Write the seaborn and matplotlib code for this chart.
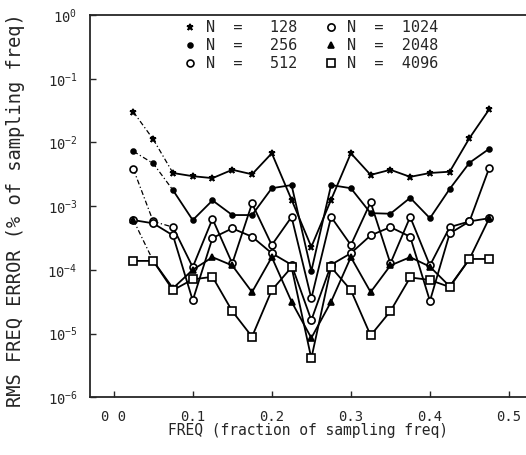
import numpy as np
import pandas as pd
import matplotlib
matplotlib.use("Agg")
import matplotlib.pyplot as plt
import seaborn as sns

freq = [0.025, 0.05, 0.075, 0.1, 0.125, 0.15, 0.175, 0.2, 0.225, 0.25,
        0.275, 0.3, 0.325, 0.35, 0.375, 0.4, 0.425, 0.45, 0.475]

err_128 = [3.0e-2, 1.12e-2, 3.31e-3, 2.95e-3, 2.75e-3, 3.72e-3, 3.16e-3, 6.76e-3, 1.26e-3, 2.29e-4,
           1.26e-3, 6.76e-3, 3.09e-3, 3.72e-3, 2.88e-3, 3.31e-3, 3.47e-3, 1.17e-2, 3.31e-2]
err_256 = [7.24e-3, 4.68e-3, 1.78e-3, 6.03e-4, 1.23e-3, 7.24e-4, 7.24e-4, 1.91e-3, 2.14e-3, 9.55e-5,
           2.14e-3, 1.91e-3, 7.76e-4, 7.59e-4, 1.35e-3, 6.46e-4, 1.86e-3, 4.79e-3, 7.94e-3]
err_512 = [3.80e-3, 5.75e-4, 4.68e-4, 1.10e-4, 6.31e-4, 1.26e-4, 1.10e-3, 2.45e-4, 6.76e-4, 3.55e-5,
           6.76e-4, 2.45e-4, 1.15e-3, 1.26e-4, 6.76e-4, 1.17e-4, 4.68e-4, 5.75e-4, 3.98e-3]
err_1024 = [6.03e-4, 5.37e-4, 3.47e-4, 3.31e-5, 3.16e-4, 4.47e-4, 3.31e-4, 1.82e-4, 1.20e-4, 1.62e-5,
            1.20e-4, 1.82e-4, 3.47e-4, 4.68e-4, 3.31e-4, 3.24e-5, 3.72e-4, 5.75e-4, 6.46e-4]
err_2048 = [6.03e-4, 1.38e-4, 5.13e-5, 1.00e-4, 1.58e-4, 1.17e-4, 4.47e-5, 1.58e-4, 3.16e-5, 8.51e-6,
            3.16e-5, 1.58e-4, 4.47e-5, 1.17e-4, 1.58e-4, 1.12e-4, 5.50e-5, 1.48e-4, 6.46e-4]
err_4096 = [1.38e-4, 1.38e-4, 4.79e-5, 7.08e-5, 7.76e-5, 2.24e-5, 8.91e-6, 4.79e-5, 1.10e-4, 4.07e-6,
            1.10e-4, 4.79e-5, 9.33e-6, 2.24e-5, 7.59e-5, 6.92e-5, 5.37e-5, 1.48e-4, 1.48e-4]

labels = ["N  =   128", "N  =   256", "N  =   512", "N  =  1024", "N  =  2048", "N  =  4096"]
x_ticks = [0.0, 0.1, 0.2, 0.3, 0.4, 0.5]
x_ticklabels = ["0 0", "0.1", "0.2", "0.3", "0.4", "0.5"]
y_ticks = [1e-6, 1e-5, 1e-4, 1e-3, 1e-2, 1e-1, 1e0]
y_ticklabels = [r"$10^{-6}$", r"$10^{-5}$", r"$10^{-4}$", r"$10^{-3}$",
                r"$10^{-2}$", r"$10^{-1}$", r"$10^{0}$"]

series = [err_128, err_256, err_512, err_1024, err_2048, err_4096]
# marker styles: (marker, size, facecolor)
styles = [("*", 5, "black"), ("o", 3.5, "black"), ("o", 5, "white"),
          ("o", 5.2, "white"), ("^", 4, "black"), ("s", 5.5, "white")]
n_dashed = [3, 3, 3, 0, 2, 0]   # leading segments drawn faint/dashed in the scan

sns.set_style("ticks")
plt.rcParams["font.family"] = ["DejaVu Sans Mono"]
plt.rcParams["mathtext.fontset"] = "custom"
plt.rcParams["mathtext.rm"] = "DejaVu Sans Mono"
plt.rcParams["mathtext.it"] = "DejaVu Sans Mono"

fig = plt.figure(figsize=(5.26, 4.55), dpi=100)
ax = fig.add_axes([0.171, 0.127, 0.829, 0.840])

for vals, lab, (mk, ms, fc), nd in zip(series, labels, styles, n_dashed):
    df = pd.DataFrame({"freq": freq, "err": vals})
    if nd > 0:
        sns.lineplot(data=df.iloc[:nd], x="freq", y="err", ax=ax, color="black",
                     lw=0.9, linestyle=(0, (4, 2, 1, 2)), estimator=None, sort=False,
                     legend=False)
    sns.lineplot(data=df.iloc[max(nd - 1, 0):], x="freq", y="err", ax=ax,
                 color="black", lw=1.3, estimator=None, sort=False, legend=False)
    sns.lineplot(data=df, x="freq", y="err", ax=ax, color="black", lw=0,
                 marker=mk, markersize=ms, markerfacecolor=fc,
                 markeredgecolor="black", markeredgewidth=1.2,
                 estimator=None, sort=False, label=lab)

ax.set_yscale("log")
ax.set_ylim(1e-6, 1e0)
ax.set_xlim(-0.030, 0.5215)
ax.set_xticks(x_ticks)
ax.set_xticklabels(x_ticklabels, fontsize=10)
ax.set_yticks(y_ticks)
ax.set_yticklabels(y_ticklabels, fontsize=10)
ax.minorticks_off()
ax.tick_params(direction="in", length=4, width=1, pad=9)
ax.spines["right"].set_visible(False)
for s in ["left", "bottom", "top"]:
    ax.spines[s].set_linewidth(1.3)

ax.set_xlabel("FREQ (fraction of sampling freq)", fontsize=10.5)
ax.set_ylabel("RMS FREQ ERROR (% of sampling freq)", fontsize=13.5)
ax.xaxis.set_label_coords(0.5, -0.068)
ax.yaxis.set_label_coords(-0.15, 0.49)

handles, labs = ax.get_legend_handles_labels()
# ncol=2 fills column-wise
leg = ax.legend(handles, labs, ncol=2, loc="upper left",
                bbox_to_anchor=(0.19, 1.022), frameon=False, fontsize=11,
                handlelength=0.5, handletextpad=0.8, columnspacing=1.9,
                labelspacing=0.2, borderaxespad=0.5)

fig.savefig("out.png", dpi=100, facecolor="white")
